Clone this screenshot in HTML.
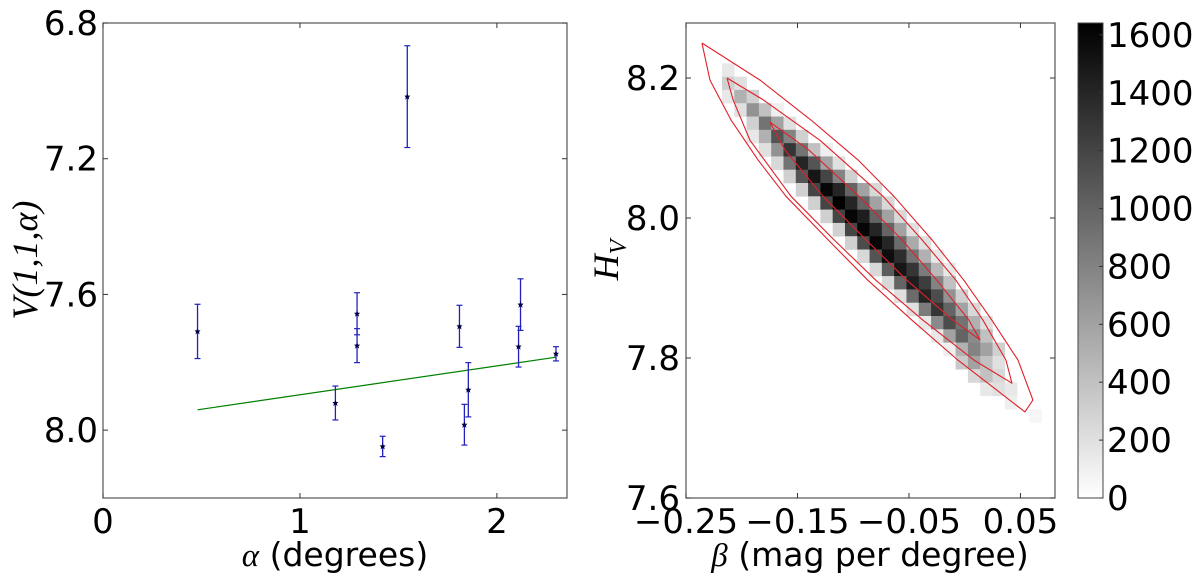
<!DOCTYPE html>
<html><head><meta charset="utf-8"><style>
html,body{margin:0;padding:0;background:#fff;}
svg{display:block;font-family:"DejaVu Sans","Liberation Sans",sans-serif;}
</style></head><body>
<svg id="fig" width="1200" height="575" viewBox="0 0 1200 575" xmlns="http://www.w3.org/2000/svg">
<rect width="1200" height="575" fill="#fff"/>
<g id="left"></g>
<g id="right"></g>
<g id="cbar"></g>
<text transform="translate(37,260) rotate(-90)" text-anchor="middle" font-family="Liberation Serif, serif" font-style="italic" font-size="36">V(1,1,α)</text>
<text x="335" y="566" text-anchor="middle" font-size="33"><tspan font-family="Liberation Serif, serif" font-style="italic">α</tspan> (degrees)</text>
<text x="870" y="566" text-anchor="middle" font-size="33"><tspan font-family="Liberation Serif, serif" font-style="italic">β</tspan> (mag per degree)</text>
<text transform="translate(618,260) rotate(-90)" text-anchor="middle" font-family="Liberation Serif, serif" font-style="italic" font-size="36">H<tspan font-size="24" dy="8">V</tspan></text>
</svg>
<script>
// ---- Left chart data ----
const alphaVals = [0.48, 1.18, 1.29, 1.29, 1.42, 1.545, 1.81, 1.835, 1.855, 2.12, 2.11, 2.30];
const magVals   = [7.709, 7.92, 7.657, 7.751, 8.048, 7.017, 7.694, 7.984, 7.881, 7.63, 7.754, 7.775];
const magErrs   = [0.08, 0.05, 0.062, 0.05, 0.03, 0.15, 0.062, 0.06, 0.08, 0.076, 0.06, 0.021];
const fitAlpha  = [0.48, 2.30];
const fitMag    = [7.94, 7.785];
const leftXTicks = [0, 1, 2];
const leftXTickLabels = ["0", "1", "2"];
const leftYTicks = [6.8, 7.2, 7.6, 8.0];
const leftYTickLabels = ["6.8", "7.2", "7.6", "8.0"];

// ---- Right chart data ----
const hRowStart = [0,0,0,1,2,2,3,4,5,6,7,8,9,10,11,12,13,14,15,16,17,18,19,20,21,23,25];
const hRowCounts = [
 [150],[300,200],[150,500,300],[200,700,400,100],[300,900,600,200],[150,500,1100,800,300],
 [200,700,1300,900,400,100],[250,900,1400,1100,600,200],[300,1100,1500,1200,800,300],
 [300,1200,1600,1400,1000,600,250],[300,1200,1650,1400,1000,600,250],[300,1200,1600,1450,1000,600,250],
 [300,1200,1600,1400,1000,600,200],[300,1150,1600,1400,950,550,200],[250,1100,1550,1350,900,500,150],
 [250,1050,1500,1300,850,450,150],[250,1000,1450,1250,800,400],[200,950,1400,1150,700,300],
 [200,850,1300,1000,600,250],[150,750,1150,900,500,200],[150,600,1000,750,400],
 [100,500,800,600,300],[350,600,400,200],[250,400,250],[150,200,150],[100],[60]
];
const binBeta0 = -0.2177, binBetaW = 0.01103, binH0 = 8.221, binHW = 0.019;
const outerBeta = [-0.2357,-0.2285,-0.2096,-0.1854,-0.1603,-0.1226,-0.0868,-0.0473,-0.0061,0.0289,0.054,0.0612,0.0478,0.0244,-0.0007,-0.0294,-0.0635,-0.0957,-0.1379,-0.1836,-0.2357];
const outerH    = [8.250,8.197,8.140,8.083,8.031,7.969,7.911,7.854,7.797,7.754,7.723,7.740,7.797,7.854,7.911,7.969,8.031,8.083,8.140,8.197,8.250];
const midBeta = [-0.2132,-0.2078,-0.1926,-0.1558,-0.1173,-0.0796,-0.0374,0.0083,0.0424,0.037,0.0164,-0.0078,-0.0383,-0.0733,-0.1298,-0.1809,-0.2132];
const midH    = [8.200,8.169,8.111,8.031,7.969,7.911,7.854,7.797,7.764,7.797,7.854,7.911,7.969,8.031,8.111,8.169,8.200];
const innerBeta = [-0.1747,-0.1612,-0.1271,-0.0886,-0.0518,-0.0105,0.0137,0.0038,-0.0249,-0.0563,-0.0948,-0.1397,-0.1747];
const innerH    = [8.137,8.097,8.031,7.969,7.911,7.854,7.826,7.854,7.911,7.969,8.031,8.097,8.137];
const rightXTicks = [-0.25, -0.15, -0.05, 0.05];
const rightXTickLabels = ["\u22120.25", "\u22120.15", "\u22120.05", "0.05"];
const rightYTicks = [7.6, 7.8, 8.0, 8.2];
const rightYTickLabels = ["7.6", "7.8", "8.0", "8.2"];
const cbarTicks = [0,200,400,600,800,1000,1200,1400,1600];
const cbarMax = 1641;

const NS = "http://www.w3.org/2000/svg";
function mk(tag, attrs, parent){const e=document.createElementNS(NS,tag);for(const k in attrs)e.setAttribute(k,attrs[k]);parent.appendChild(e);return e;}

// ---- Left axes ----
const L = {x0:103, x1:567, y0:23, y1:498};
const lx = v => L.x0 + (v - 0) / 2.356 * (L.x1 - L.x0);
const ly = v => L.y0 + (v - 6.8) / 1.4 * (L.y1 - L.y0);
const gl = document.getElementById('left');
const fit = mk('line',{x1:lx(fitAlpha[0]),y1:ly(fitMag[0]),x2:lx(fitAlpha[1]),y2:ly(fitMag[1]),stroke:'#008000','stroke-width':1.2},gl);


alphaVals.forEach((a,i)=>{
  const g = mk('g',{},gl);
  
  
  const x = lx(a), yt = ly(magVals[i]-magErrs[i]), yb = ly(magVals[i]+magErrs[i]);
  mk('line',{x1:x,y1:yt,x2:x,y2:yb,stroke:'#2222bb','stroke-width':1.3},g);
  mk('line',{x1:x-3,y1:yt,x2:x+3,y2:yt,stroke:'#2222bb','stroke-width':1.2},g);
  mk('line',{x1:x-3,y1:yb,x2:x+3,y2:yb,stroke:'#2222bb','stroke-width':1.2},g);
  const y = ly(magVals[i]);
  mk('polygon',{points:`${x},${y-3} ${x+1},${y-1} ${x+3},${y-1} ${x+1.5},${y+0.6} ${x+2},${y+3} ${x},${y+1.5} ${x-2},${y+3} ${x-1.5},${y+0.6} ${x-3},${y-1} ${x-1},${y-1}`,fill:'#000044'},g);
});
const lframe = mk('rect',{x:L.x0,y:L.y0,width:L.x1-L.x0,height:L.y1-L.y0,fill:'none',stroke:'#555','stroke-width':1.2},gl);


leftXTicks.forEach((t,i)=>{
  const x=lx(t);
  mk('line',{x1:x,y1:L.y1,x2:x,y2:L.y1-5,stroke:'#333'},gl);
  mk('line',{x1:x,y1:L.y0,x2:x,y2:L.y0+5,stroke:'#333'},gl);
  const tx = mk('text',{x:x,y:533,'text-anchor':'middle','font-size':34},gl);
  tx.textContent = leftXTickLabels[i];
  
  
});
leftYTicks.forEach((t,i)=>{
  const y=ly(t);
  mk('line',{x1:L.x0,y1:y,x2:L.x0+5,y2:y,stroke:'#333'},gl);
  mk('line',{x1:L.x1,y1:y,x2:L.x1-5,y2:y,stroke:'#333'},gl);
  const tx = mk('text',{x:98,y:y+12,'text-anchor':'end','font-size':34},gl);
  tx.textContent = leftYTickLabels[i];
  
  
});

// ---- Right axes ----
const R = {x0:686, x1:1055, y0:23, y1:498};
const rx = v => R.x0 + (v + 0.25) / 0.331 * (R.x1 - R.x0);
const ry = v => R.y1 - (v - 7.6) / 0.6786 * (R.y1 - R.y0);
const gr = document.getElementById('right');
const shade = v => { const c = Math.round(255*(1 - Math.min(v,cbarMax)/cbarMax)); return `rgb(${c},${c},${c})`; };
hRowCounts.forEach((row,r)=>{
  row.forEach((v,j)=>{
    const c = hRowStart[r] + j;
    const b0 = binBeta0 + c*binBetaW, h0 = binH0 - r*binHW;
    const x = rx(b0), x2 = rx(b0+binBetaW), y = ry(h0), y2 = ry(h0-binHW);
    const cell = mk('rect',{x:x,y:y,width:x2-x+0.3,height:y2-y+0.3,fill:shade(v)},gr);
    
    
  });
});
[[outerBeta,outerH,'outer-contour'],[midBeta,midH,'middle-contour'],[innerBeta,innerH,'inner-contour']].forEach(([bs,hs,name])=>{
  const pts = bs.map((b,i)=>rx(b)+','+ry(hs[i])).join(' ');
  const p = mk('polyline',{points:pts,fill:'none',stroke:'#e0202a','stroke-width':1.1,'stroke-linejoin':'round'},gr);
  
  
});
const rframe = mk('rect',{x:R.x0,y:R.y0,width:R.x1-R.x0,height:R.y1-R.y0,fill:'none',stroke:'#555','stroke-width':1.2},gr);


rightXTicks.forEach((t,i)=>{
  const x=rx(t);
  mk('line',{x1:x,y1:R.y1,x2:x,y2:R.y1-5,stroke:'#333'},gr);
  mk('line',{x1:x,y1:R.y0,x2:x,y2:R.y0+5,stroke:'#333'},gr);
  const tx = mk('text',{x:x,y:533,'text-anchor':'middle','font-size':34},gr);
  tx.textContent = rightXTickLabels[i];
  
  
});
rightYTicks.forEach((t,i)=>{
  const y=ry(t);
  mk('line',{x1:R.x0,y1:y,x2:R.x0+5,y2:y,stroke:'#333'},gr);
  mk('line',{x1:R.x1,y1:y,x2:R.x1-5,y2:y,stroke:'#333'},gr);
  const tx = mk('text',{x:680,y:y+12,'text-anchor':'end','font-size':34},gr);
  tx.textContent = rightYTickLabels[i];
  
  
});

// ---- Colorbar ----
const C = {x0:1078, x1:1103, y0:23, y1:498};
const cy = v => C.y1 - v / cbarMax * (C.y1 - C.y0);
const gc = document.getElementById('cbar');
const defs = mk('defs',{},gc);
const grad = mk('linearGradient',{id:'cg',x1:0,y1:1,x2:0,y2:0},defs);
mk('stop',{offset:'0','stop-color':'#fff'},grad);
mk('stop',{offset:'1','stop-color':'#000'},grad);
const cb = mk('rect',{x:C.x0,y:C.y0,width:C.x1-C.x0,height:C.y1-C.y0,fill:'url(#cg)',stroke:'#444','stroke-width':1},gc);


cbarTicks.forEach(t=>{
  const y=cy(t);
  mk('line',{x1:C.x1,y1:y,x2:C.x1-4,y2:y,stroke:'#333'},gc);
  const tx = mk('text',{x:1107,y:y+12,'text-anchor':'start','font-size':34},gc);
  tx.textContent = String(t);
  
  
});
</script>
</body></html>
